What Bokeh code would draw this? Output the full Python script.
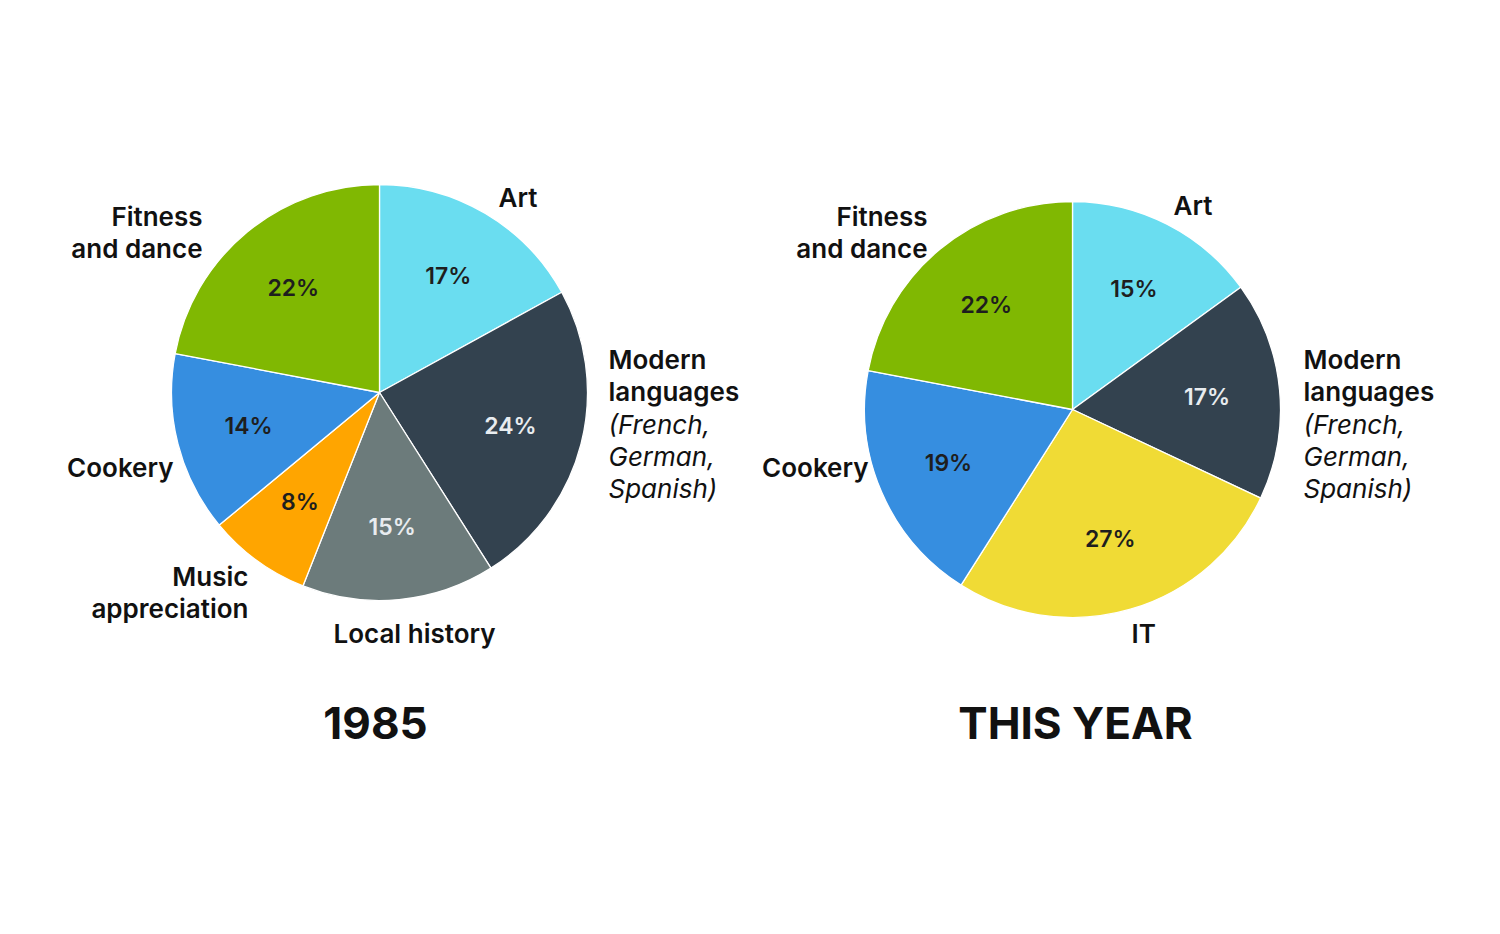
import math
from bokeh.plotting import figure
from bokeh.models import Range1d, ColumnDataSource
from bokeh.core.properties import value
from bokeh.embed import file_html
from bokeh.resources import INLINE

# ---------------- data ----------------
cats_1985 = ["Art", "Modern languages", "Local history", "Music appreciation", "Cookery", "Fitness and dance"]
vals_1985 = [17, 24, 15, 8, 14, 22]
cats_now = ["Art", "Modern languages", "IT", "Cookery", "Fitness and dance"]
vals_now = [15, 17, 27, 19, 22]
titles = ["1985", "THIS YEAR"]

# ---------------- styles ----------------
colors = {
    "Art": "#6ADDF0",
    "Modern languages": "#33424F",
    "Local history": "#6C7B7B",
    "Music appreciation": "#FFA500",
    "Cookery": "#368EE0",
    "Fitness and dance": "#80B802",
    "IT": "#F0DB35",
}
light_text = {"Modern languages", "Local history"}
SEMI = value("Inter SemiBold")
REG = value("Inter")

W, H = 1484, 918
p = figure(width=W, height=H, output_backend="svg", toolbar_location=None,
           x_range=Range1d(0, W), y_range=Range1d(0, H),
           min_border=0, outline_line_color=None)
p.axis.visible = False
p.grid.visible = False
p.background_fill_color = "white"
p.border_fill_color = "white"


def Y(iy):
    # image y (top-down) -> data y
    return H - iy


def draw_pie(cx, cy, r, cats, vals):
    total = float(sum(vals))
    cum = 0.0
    starts, ends, cols, lx, ly, lt, lc = [], [], [], [], [], [], []
    for c, v in zip(cats, vals):
        a0 = math.pi / 2 - 2 * math.pi * (cum + v) / total
        a1 = math.pi / 2 - 2 * math.pi * cum / total
        mid = math.pi / 2 - 2 * math.pi * (cum + v / 2) / total
        starts.append(a0)
        ends.append(a1)
        cols.append(colors[c])
        lr = 0.65 * r
        lx.append(cx + lr * math.cos(mid))
        ly.append(Y(cy) + lr * math.sin(mid))
        lt.append(f"{v}%")
        lc.append("#E8ECEF" if c in light_text else "#1E1E1E")
        cum += v
    src = ColumnDataSource(dict(x=[cx] * len(cats), y=[Y(cy)] * len(cats),
                                s=starts, e=ends, c=cols))
    p.wedge(x="x", y="y", radius=r, start_angle="s", end_angle="e",
            fill_color="c", line_color="white", line_width=1.3, source=src)
    tsrc = ColumnDataSource(dict(x=lx, y=ly, t=lt, c=lc))
    p.text(x="x", y="y", text="t", text_color="c", text_font=SEMI,
           text_font_size="23px", text_font_style="normal",
           text_align="center", text_baseline="middle", source=tsrc)


def label(x, iy, txt, align="left", font=SEMI, style="normal", size="26px"):
    p.text(x=[x], y=[Y(iy)], text=[txt], text_font=font, text_font_size=size,
           text_font_style=style, text_color="#111111",
           text_align=align, text_baseline="middle")


MODERN = [("Modern", SEMI, "normal"), ("languages", SEMI, "normal"),
          ("(French,", REG, "italic"), ("German,", REG, "italic"), ("Spanish)", REG, "italic")]

# left pie (1985)
draw_pie(379, 392, 208, cats_1985, vals_1985)
label(498, 197, "Art")
label(202, 216, "Fitness", "right")
label(202, 248, "and dance", "right")
for i, (t, f, st) in enumerate(MODERN):
    label(608, 359 + i * 32.3, t, "left", f, st)
label(173, 467, "Cookery", "right")
label(248, 576, "Music", "right")
label(248, 608, "appreciation", "right")
label(333, 633, "Local history")

# right pie (this year)
draw_pie(1072, 409, 208, cats_now, vals_now)
label(1173, 205, "Art")
label(927, 216, "Fitness", "right")
label(927, 248, "and dance", "right")
for i, (t, f, st) in enumerate(MODERN):
    label(1303, 359 + i * 32.3, t, "left", f, st)
label(868, 467, "Cookery", "right")
label(1131, 633, "IT")

# titles
label(375, 722, titles[0], "center", REG, "bold", "44px")
label(1075, 722, titles[1], "center", REG, "bold", "44px")

open("out.html", "w").write(file_html(p, INLINE))
